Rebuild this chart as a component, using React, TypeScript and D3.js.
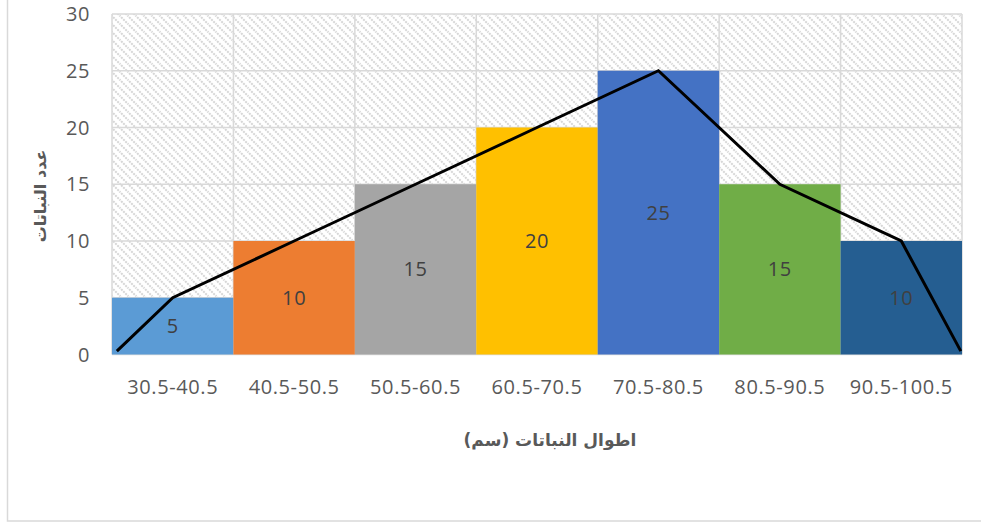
import React from "react";
import * as d3 from "d3";

const categories = ["30.5-40.5", "40.5-50.5", "50.5-60.5", "60.5-70.5", "70.5-80.5", "80.5-90.5", "90.5-100.5"];
const counts = [5, 10, 15, 20, 25, 15, 10];
const barColors = ["#5B9BD5", "#ED7D31", "#A5A5A5", "#FFC000", "#4472C4", "#70AD47", "#255E91"];
const polyX = [30.9, 35.5, 45.5, 55.5, 65.5, 75.5, 85.5, 95.5, 100.4];
const polyY = [0.3, 5, 10, 15, 20, 25, 15, 10, 0.3];
const yTicks = [0, 5, 10, 15, 20, 25, 30];
const xTitle = "اطوال النباتات (سم)";
const yTitle = "عدد النباتات";

export default function App() {
  const W = 981, H = 523;
  const left = 112, right = 962, top = 14, bottom = 354.5;
  const x = d3.scaleBand<string>().domain(categories).range([left, right]).padding(0);
  const y = d3.scaleLinear().domain([0, 30]).range([bottom, top]);
  const xl = d3.scaleLinear().domain([30.5, 100.5]).range([left, right]);
  const line = d3.line<number>().x((_, i) => xl(polyX[i])).y((d) => y(d));
  const tickFont = "'Open Sans', sans-serif";
  const arFont = "'DejaVu Sans', sans-serif";
  return (
    <svg width={W} height={H} style={{ position: "absolute", left: 0, top: 0 }}>
      <defs>
        <pattern id="hatch" width="8" height="8" patternUnits="userSpaceOnUse">
          <rect width="8" height="8" fill="#fff" />
          <path d="M-1,-1 L9,9 M-1,7 L1,9 M7,-1 L9,1" stroke="#D6D6D6" strokeWidth="2" strokeDasharray="2 1" />
        </pattern>
      </defs>
      <rect x={0} y={0} width={W} height={H} fill="#fff" />
      <rect x={7.5} y={-10} width={1000} height={531} fill="none" stroke="#D9D9D9" strokeWidth={1.5} />
      <rect x={left} y={top} width={right - left} height={bottom - top} fill="url(#hatch)" />
      {yTicks.map((t) => (
        <line key={"h" + t} x1={left} x2={right} y1={y(t)} y2={y(t)} stroke="#D9D9D9" strokeWidth={1.5} />
      ))}
      {categories.map((c) => (
        <line key={"v" + c} x1={x(c)!} x2={x(c)!} y1={top} y2={bottom} stroke="#D9D9D9" strokeWidth={1.5} />
      ))}
      <line x1={right} x2={right} y1={top} y2={bottom} stroke="#D9D9D9" strokeWidth={1.5} />
      {categories.map((c, i) => (
        <rect key={"b" + c} x={x(c)!} y={y(counts[i])} width={x.bandwidth()} height={bottom - y(counts[i])} fill={barColors[i]} />
      ))}
      {categories.map((c, i) => (
        <text key={"l" + c} x={x(c)! + x.bandwidth() / 2} y={(y(counts[i]) + bottom) / 2} dy="0.35em" textAnchor="middle" fontFamily={tickFont} fontSize={20} letterSpacing={0.6} fill="#404040">
          {counts[i]}
        </text>
      ))}
      <path d={line(polyY) || ""} fill="none" stroke="#000" strokeWidth={3} strokeLinejoin="miter" />
      {yTicks.map((t) => (
        <text key={"yt" + t} x={90} y={y(t)} dy="0.35em" textAnchor="end" fontFamily={tickFont} fontSize={20} letterSpacing={0.6} fill="#595959">
          {t}
        </text>
      ))}
      {categories.map((c) => (
        <text key={"xt" + c} x={x(c)! + x.bandwidth() / 2} y={387} dy="0.35em" textAnchor="middle" fontFamily={tickFont} fontSize={20} letterSpacing={0.6} fill="#595959">
          {c}
        </text>
      ))}
      <text x={550} y={440} dy="0.35em" textAnchor="middle" fontFamily={arFont} fontWeight="bold" fontSize={17} fill="#595959" direction="rtl">
        {xTitle}
      </text>
      <text transform={`translate(40,196) rotate(-90)`} dy="0.35em" textAnchor="middle" fontFamily={arFont} fontWeight="bold" fontSize={16} fill="#595959" direction="rtl">
        {yTitle}
      </text>
    </svg>
  );
}
